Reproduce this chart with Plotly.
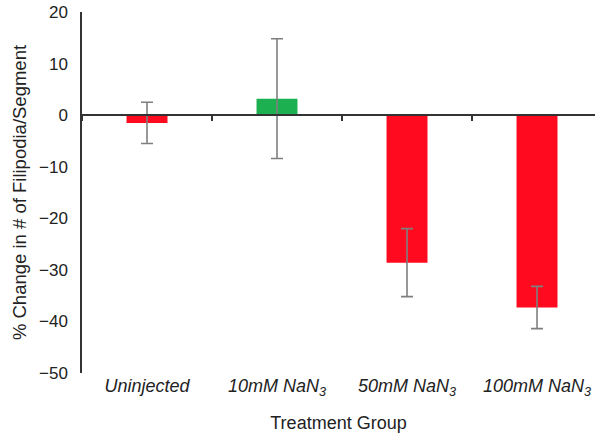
import plotly.graph_objects as go

categories = ["<i>Uninjected</i>", "<i>10mM NaN<sub>3</sub></i>", "<i>50mM NaN<sub>3</sub></i>", "<i>100mM NaN<sub>3</sub></i>"]
values = [-1.5, 3.2, -28.6, -37.3]
errors = [4.0, 11.6, 6.6, 4.1]
colors = ["#FF0A1E", "#1DB051", "#FF0A1E", "#FF0A1E"]
y_ticks = [-50, -40, -30, -20, -10, 0, 10, 20]

font_family = "Liberation Sans, Arial, sans-serif"

fig = go.Figure()
fig.add_trace(go.Bar(
    x=categories, y=values,
    marker=dict(color=colors, line=dict(width=0)),
    width=0.315,
    error_y=dict(type="data", array=errors, visible=True, color="#7F7F7F", thickness=1.6, width=6),
    hoverinfo="skip",
))
# invisible helper trace so the zero-crossing category axis is drawn
fig.add_trace(go.Scatter(
    x=categories, y=values, mode="markers", marker=dict(opacity=0),
    xaxis="x2", hoverinfo="skip", showlegend=False,
))

xr = [-0.5, 3.446]
fig.update_layout(
    width=595, height=433,
    margin=dict(l=82, r=0, t=12, b=60),
    paper_bgcolor="white", plot_bgcolor="white",
    showlegend=False,
    font=dict(family=font_family, color="#222222"),
    xaxis=dict(
        range=xr, categoryorder="array", categoryarray=categories,
        showline=False, showgrid=False, zeroline=False, ticks="",
        tickfont=dict(size=18, color="#222222"),
        title=dict(text="Treatment Group", font=dict(size=18, color="#222222"), standoff=18),
    ),
    xaxis2=dict(
        range=xr, categoryorder="array", categoryarray=categories,
        overlaying="x", anchor="free", position=50 / 70, side="bottom",
        showline=True, linecolor="#333333", linewidth=1.6,
        ticks="outside", tickson="boundaries", ticklen=5, tickcolor="#333333", tickwidth=1.5,
        showticklabels=False, showgrid=False, zeroline=False,
    ),
    yaxis=dict(
        range=[-50, 20], tickvals=y_ticks,
        showline=True, linecolor="#333333", linewidth=1.5,
        showgrid=False, zeroline=False,
        ticks="outside", ticklen=9, tickcolor="rgba(0,0,0,0)",
        tickfont=dict(size=17, color="#222222"),
        title=dict(text="% Change in # of Filipodia/Segment", font=dict(size=18.5, color="#222222"), standoff=8),
    ),
)

fig.write_html("out.html")
